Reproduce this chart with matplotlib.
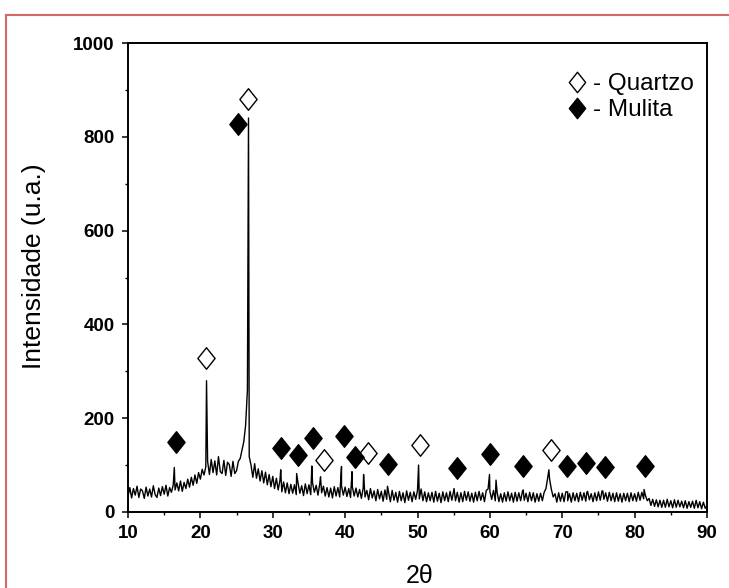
import numpy as np
import matplotlib
matplotlib.use("Agg")
import matplotlib.pyplot as plt
from matplotlib.lines import Line2D
from matplotlib.path import Path

plt.rcParams["font.family"] = ["Liberation Sans", "DejaVu Sans"]

# 2-theta grid of the background trace (0.25 deg steps) and counts
two_theta = np.arange(10, 90.001, 0.25)
counts = [
    33, 52, 30, 50,   36, 55, 31, 49,   45, 29, 53, 34,   49, 32, 56, 37,   # 10-13
    31, 51, 35, 54,   38, 57, 34, 52,   42, 58, 47, 62,   45, 66, 44, 63,   # 14-17
    50, 70, 53, 74,   57, 79, 61, 84,   70, 91, 79, 96,   108, 80, 112, 84, # 18-21
    109, 79, 118, 86, 82, 110, 78, 106, 101, 76, 108, 82, 88, 108, 114, 132, # 22-25
    150, 185, 260, 118, 100, 74, 103, 72, 92, 66, 88, 62, 85, 58, 80, 54,   # 26-29
    76, 50, 72, 47,   68, 43, 64, 41,   62, 39, 59, 40,   58, 37, 61, 40,   # 30-33
    56, 35, 60, 39,   58, 37, 62, 42,   57, 36, 61, 41,   55, 34, 52, 32,   # 34-37
    51, 30, 54, 34,   52, 32, 56, 36,   53, 33, 50, 31,   54, 34, 51, 32,   # 38-41
    48, 29, 52, 32,   46, 26, 50, 30,   45, 24, 48, 28,   44, 23, 47, 27,   # 42-45
    43, 22, 46, 25,   42, 21, 44, 24,   41, 20, 45, 25,   42, 22, 43, 27,   # 46-49
    46, 28, 49, 24,   43, 22, 41, 24,   42, 21, 44, 23,   40, 20, 43, 24,   # 50-53
    41, 22, 44, 25,   46, 24, 42, 21,   41, 22, 44, 25,   43, 23, 40, 21,   # 54-57
    42, 24, 44, 25,   41, 22, 46, 49,   44, 27, 46, 24,   42, 22, 39, 21,   # 58-61
    41, 23, 43, 24,   40, 21, 42, 23,   41, 24, 44, 25,   40, 22, 42, 24,   # 62-65
    41, 21, 39, 23,   40, 24, 42, 50,   74, 70, 48, 32,   39, 21, 41, 23,   # 66-69
    40, 22, 43, 24,   39, 21, 41, 24,   40, 22, 42, 25,   41, 23, 44, 26,   # 70-73
    39, 22, 41, 24,   43, 25, 45, 27,   41, 23, 42, 24,   40, 22, 41, 23,   # 74-77
    39, 21, 40, 24,   40, 22, 41, 24,   39, 23, 42, 25,   42, 28, 35, 24,   # 78-81
    29, 14, 27, 12,   26, 11, 25, 10,   25, 10, 27, 11,   24, 9, 26, 10,    # 82-85
    25, 11, 23, 9,    24, 8, 22, 10,    23, 8, 25, 9,     22, 7, 21, 8,     # 86-89
    14,
]

# sharp reflections sitting on the background
peak_pos = [16.4, 20.85, 26.65, 31.1, 33.3, 35.4, 36.6, 39.5, 40.95, 42.55, 45.85,
            50.15, 55.05, 59.95, 60.85, 64.6, 68.15, 70.75, 73.4, 75.6, 81.3]
peak_int = [95, 280, 840, 90, 82, 98, 75, 97, 86, 80, 55,
            100, 50, 80, 68, 47, 90, 43, 42, 45, 48]

# phase markers
quartzo_x = [20.8, 26.6, 37.1, 43.1, 50.3, 68.4]
quartzo_y = [328, 880, 111, 126, 143, 132]
mulita_x = [16.6, 25.2, 31.1, 33.5, 35.6, 39.8, 41.4, 45.9, 55.4, 60.0, 64.6,
            70.6, 73.3, 75.9, 81.4]
mulita_y = [149, 827, 136, 122, 158, 162, 117, 102, 94, 124, 98, 98, 104, 96, 98]

x_all = np.concatenate([two_theta, peak_pos])
y_all = np.concatenate([counts, peak_int])
order = np.argsort(x_all)
x_all, y_all = x_all[order], y_all[order]

# slightly tall diamond
diamond = Path([(0, 1), (0.8, 0), (0, -1), (-0.8, 0), (0, 1)],
               [Path.MOVETO, Path.LINETO, Path.LINETO, Path.LINETO, Path.CLOSEPOLY])

fig = plt.figure(figsize=(7.29, 5.88), dpi=100)
ax = fig.add_axes([128 / 729, 1 - 512 / 588, 579 / 729, 469 / 588])

ax.plot(x_all, y_all, color="black", lw=1.0, zorder=2)
ax.plot(quartzo_x, quartzo_y, ls="none", marker=diamond, ms=15.5,
        mfc="white", mec="black", mew=1.0, zorder=3, label="- Quartzo")
ax.plot(mulita_x, mulita_y, ls="none", marker=diamond, ms=15.5,
        mfc="black", mec="black", mew=1.0, zorder=3, label="- Mulita")

ax.set_xlim(10, 90)
ax.set_ylim(0, 1000)
ax.set_xticks(np.arange(10, 91, 10))
ax.set_xticks(np.arange(15, 90, 10), minor=True)
ax.set_yticks(np.arange(0, 1001, 200))
ax.set_yticks(np.arange(100, 1000, 200), minor=True)

for s in ax.spines.values():
    s.set_linewidth(1.4)
ax.tick_params(which="major", direction="out", length=4.5, width=1.1, pad=5,
               labelsize=13.5)
ax.tick_params(which="minor", direction="out", length=2.5, width=1.0)
for lab in ax.get_xticklabels() + ax.get_yticklabels():
    lab.set_fontweight("bold")

fig.text(34 / 729, 1 - 266 / 588, "Intensidade (u.a.)", rotation=90,
         ha="center", va="center", fontsize=19)
fig.text(419.5 / 729, 1 - 576 / 588, "2θ", ha="center", va="center", fontsize=18)

ax.legend(loc="upper left", bbox_to_anchor=(566 / 729, 1 - 73 / 588),
          bbox_transform=fig.transFigure, frameon=False, fontsize=17.5,
          handlelength=0.9, handletextpad=0.2, labelspacing=0.17,
          borderpad=0, borderaxespad=0, markerscale=0.95)

# reddish frame around the figure (right/bottom edges fall outside the image)
border = "#d26a6a"
fig.add_artist(Line2D([6 / 729, 1], [1 - 15 / 588] * 2, color=border, lw=1.5,
                      transform=fig.transFigure))
fig.add_artist(Line2D([6 / 729] * 2, [0, 1 - 15 / 588], color=border, lw=1.5,
                      transform=fig.transFigure))

fig.savefig("out.png", dpi=100)
